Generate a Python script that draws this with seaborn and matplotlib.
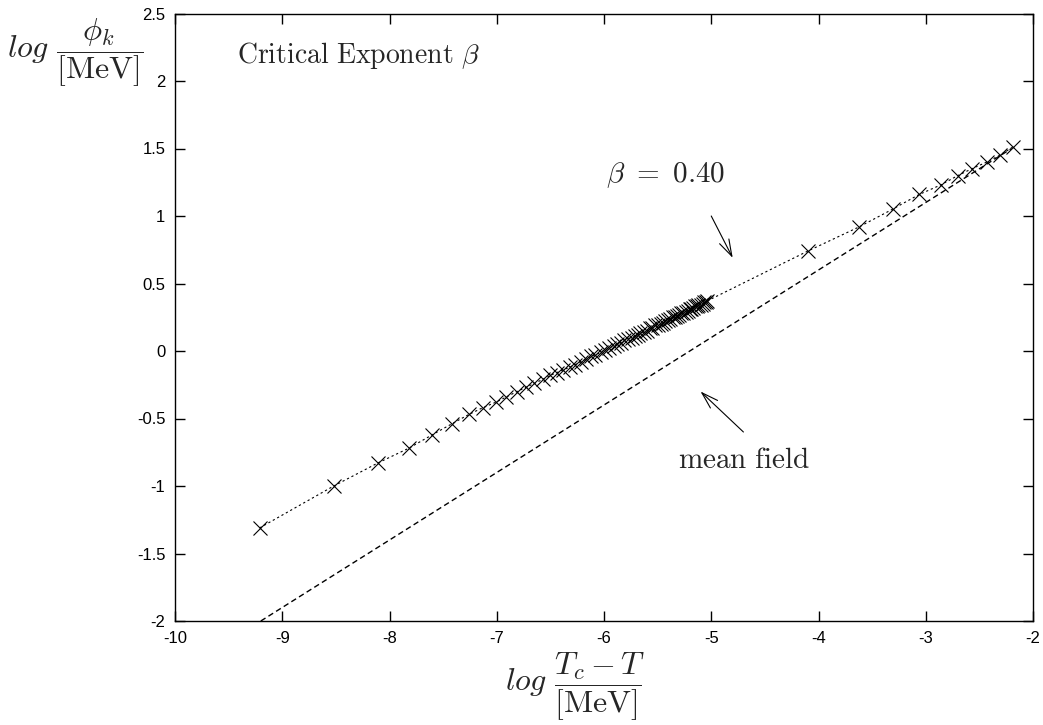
import numpy as np
import matplotlib
matplotlib.use("Agg")
import matplotlib.pyplot as plt
import seaborn as sns
from matplotlib.ticker import FormatStrFormatter

# ----------------------------------------
# Data
# ----------------------------------------
log_t = [
    -9.21, -8.52, -8.11, -7.82, -7.60, -7.42, -7.26, -7.13, -7.01, -6.91,
    -6.81, -6.73, -6.65, -6.57, -6.50, -6.44, -6.38, -6.32, -6.27, -6.21,
    -6.17, -6.12, -6.08, -6.03, -5.99, -5.95, -5.91, -5.88, -5.84, -5.81,
    -5.78, -5.74, -5.71, -5.68, -5.66, -5.63, -5.60, -5.57, -5.55, -5.52,
    -5.50, -5.47, -5.45, -5.43, -5.40, -5.38, -5.36, -5.34, -5.32, -5.30,
    -5.28, -5.26, -5.24, -5.22, -5.20, -5.19, -5.17, -5.15, -5.13, -5.12,
    -5.10, -5.08, -5.07, -5.05, -5.04,
    -4.10, -3.62, -3.31, -3.06, -2.86, -2.70, -2.57, -2.43, -2.31, -2.19,
]
log_phi = [
    -1.31, -1.00, -0.83, -0.72, -0.62, -0.54, -0.47, -0.42, -0.38, -0.34,
    -0.30, -0.27, -0.24, -0.21, -0.18, -0.16, -0.14, -0.12, -0.10, -0.08,
    -0.06, -0.04, -0.03, -0.01, 0.01, 0.02, 0.04, 0.05, 0.06, 0.08,
    0.09, 0.10, 0.11, 0.12, 0.13, 0.14, 0.15, 0.17, 0.17, 0.19,
    0.19, 0.20, 0.21, 0.22, 0.23, 0.24, 0.25, 0.25, 0.26, 0.27,
    0.28, 0.28, 0.29, 0.30, 0.31, 0.31, 0.32, 0.33, 0.33, 0.34,
    0.34, 0.35, 0.36, 0.36, 0.37,
    0.74, 0.92, 1.05, 1.16, 1.23, 1.30, 1.35, 1.40, 1.45, 1.51,
]

# mean field line (slope 1/2)
mf_x = [-9.2, -2.2]
mf_y = [-2.0, 1.5]

x_ticks = [-10, -9, -8, -7, -6, -5, -4, -3, -2]
y_ticks = [-2, -1.5, -1, -0.5, 0, 0.5, 1, 1.5, 2, 2.5]

# ----------------------------------------
# Style
# ----------------------------------------
sns.set_style("ticks")
plt.rcParams["font.family"] = ["Liberation Sans", "DejaVu Sans"]
plt.rcParams["mathtext.fontset"] = "cm"
plt.rcParams["axes.unicode_minus"] = False

fig = plt.figure(figsize=(10.43, 7.25), dpi=100)
ax = fig.add_axes([175 / 1043, 104 / 725, 858 / 1043, 607.5 / 725])

sns.lineplot(
    x=log_t,
    y=log_phi,
    ax=ax,
    color="black",
    linewidth=0.8,
    linestyle=(0, (2, 2.5)),
    marker="x",
    markersize=10,
    markeredgewidth=0.8,
    markeredgecolor="black",
    sort=False,
    estimator=None,
)

sns.lineplot(
    x=mf_x,
    y=mf_y,
    ax=ax,
    color="black",
    linewidth=1.0,
    linestyle=(0, (4, 2.5)),
    sort=False,
    estimator=None,
)

ax.set_xlim(-10, -2)
ax.set_ylim(-2, 2.5)
ax.set_xticks(x_ticks)
ax.set_yticks(y_ticks)
ax.yaxis.set_major_formatter(FormatStrFormatter("%g"))
ax.tick_params(
    direction="in",
    top=True,
    right=True,
    length=7,
    width=1,
    labelsize=12,
    pad=7,
    colors="black",
)
for s in ax.spines.values():
    s.set_linewidth(1)
    s.set_color("black")

ax.set_xlabel("")
ax.set_ylabel("")

# ----------------------------------------
# Labels and annotations
# ----------------------------------------
ax.text(
    -9.42, 2.19,
    r"$\mathrm{Critical\ Exponent}\ \beta$",
    fontsize=20, ha="left", va="center"
)

ax.text(-5.43, 1.30, r"$\beta\ =\ 0.40$", fontsize=21, ha="center", va="center")
ax.annotate(
    "",
    xy=(-4.80, 0.69),
    xytext=(-5.00, 1.00),
    arrowprops=dict(arrowstyle="->,head_length=0.8,head_width=0.25",
                    color="black", lw=0.8, mutation_scale=15,
                    shrinkA=0, shrinkB=0),
)

ax.text(-4.69, -0.81, r"$\mathrm{mean\ field}$", fontsize=21, ha="center", va="center")
ax.annotate(
    "",
    xy=(-5.10, -0.30),
    xytext=(-4.70, -0.60),
    arrowprops=dict(arrowstyle="->,head_length=0.8,head_width=0.25",
                    color="black", lw=0.8, mutation_scale=15,
                    shrinkA=0, shrinkB=0),
)

fig.text(75 / 1043, 1 - 53 / 725,
         r"$log\ \dfrac{\phi_k}{[\mathrm{MeV}]}$",
         fontsize=23, ha="center", va="center")
fig.text(575 / 1043, 1 - 687 / 725,
         r"$log\ \dfrac{T_c - T}{[\mathrm{MeV}]}$",
         fontsize=23, ha="center", va="center")

plt.savefig("out.png", dpi=100)
plt.close()
